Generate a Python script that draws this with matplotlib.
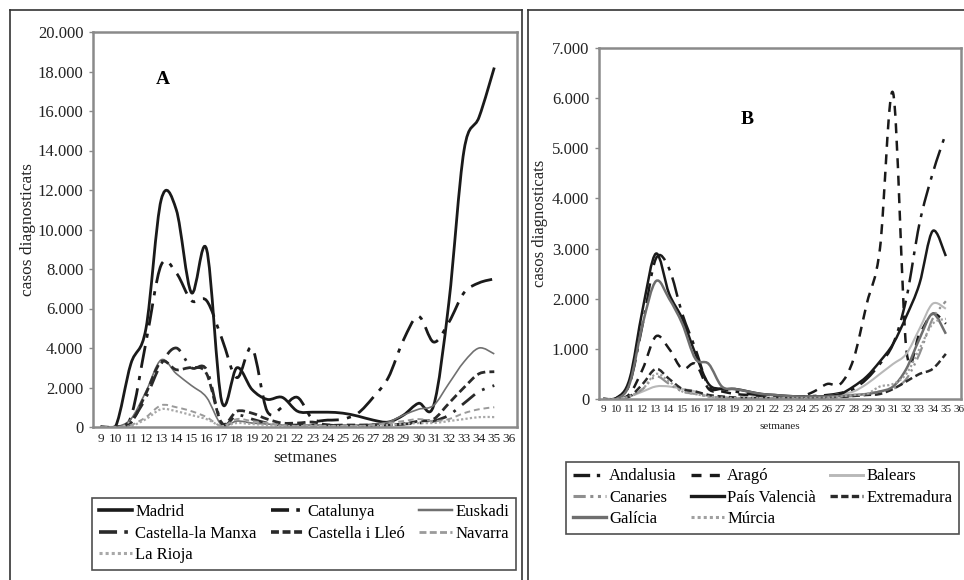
import matplotlib
matplotlib.use("Agg")
import matplotlib.pyplot as plt
from matplotlib.path import Path
from matplotlib.patches import PathPatch
from matplotlib.lines import Line2D
from matplotlib.ticker import FuncFormatter

# ---------------- data ----------------
weeks = list(range(9, 36))
tick_weeks = list(range(9, 37))

madrid = [0, 50, 3200, 5000, 11500, 11000, 6800, 9000, 1300, 3000, 1900, 1400, 1500, 800, 750, 750, 700, 550, 350, 250, 600, 1200, 1100, 6300, 14000, 15700, 18200]
catalunya = [0, 0, 500, 4300, 8200, 7800, 6400, 6400, 4500, 2500, 4000, 800, 1000, 1500, 400, 350, 400, 700, 1500, 2500, 4400, 5600, 4300, 5300, 6800, 7300, 7500]
euskadi = [0, 0, 400, 1800, 3400, 2700, 2100, 1500, 100, 300, 200, 150, 100, 100, 100, 100, 100, 100, 150, 250, 600, 900, 1100, 2200, 3300, 4000, 3700]
castella_manxa = [0, 0, 300, 1500, 3200, 4000, 3000, 2900, 200, 600, 400, 200, 100, 100, 100, 100, 50, 50, 50, 100, 150, 200, 300, 600, 1200, 1800, 2100]
castella_lleo = [0, 0, 200, 1700, 3300, 2900, 3000, 2700, 200, 800, 700, 400, 200, 200, 250, 100, 100, 100, 100, 100, 150, 300, 400, 1200, 2000, 2700, 2800]
navarra = [0, 0, 100, 500, 1100, 1000, 800, 500, 50, 400, 300, 200, 100, 50, 50, 50, 50, 50, 100, 200, 300, 400, 300, 400, 700, 900, 1000]
la_rioja = [0, 0, 50, 400, 900, 800, 600, 400, 50, 200, 150, 100, 50, 50, 50, 50, 50, 50, 50, 100, 150, 200, 200, 300, 400, 500, 500]

andalusia = [0, 20, 300, 1500, 2800, 2600, 1700, 1000, 250, 200, 150, 100, 80, 60, 50, 50, 60, 80, 120, 200, 400, 700, 1100, 2000, 3500, 4500, 5300]
arago = [0, 0, 100, 600, 1250, 1000, 600, 700, 200, 150, 100, 80, 60, 50, 50, 50, 150, 300, 300, 800, 1900, 3000, 6100, 1000, 1300, 1700, 1500]
balears = [0, 0, 50, 150, 250, 250, 200, 150, 50, 30, 20, 20, 20, 20, 20, 30, 40, 60, 100, 150, 300, 500, 700, 900, 1400, 1900, 1800]
canaries = [0, 0, 50, 200, 450, 300, 150, 100, 50, 30, 20, 20, 20, 20, 20, 20, 20, 30, 40, 60, 100, 150, 200, 400, 900, 1600, 1950]
pais_valencia = [0, 20, 400, 1800, 2900, 2100, 1600, 900, 300, 200, 200, 150, 100, 80, 60, 50, 50, 60, 100, 250, 450, 750, 1100, 1650, 2300, 3350, 2850]
extremadura = [0, 0, 50, 300, 600, 400, 200, 150, 80, 50, 30, 20, 20, 20, 20, 20, 20, 30, 40, 60, 80, 100, 200, 350, 500, 600, 900]
galicia = [0, 0, 300, 1500, 2350, 2000, 1500, 800, 700, 250, 200, 150, 100, 80, 60, 50, 50, 50, 60, 80, 100, 150, 250, 600, 1200, 1700, 1300]
murcia = [0, 0, 50, 200, 500, 350, 150, 100, 50, 30, 20, 20, 20, 20, 20, 20, 20, 30, 50, 80, 100, 250, 300, 500, 1000, 1500, 1600]

# ---------------- helpers ----------------
SERIF = ["Liberation Serif", "DejaVu Serif"]
plt.rcParams["font.family"] = SERIF

def smooth_path(xs, ys):
    """Excel-like smoothed line: cubic Bezier through the data points."""
    n = len(xs)
    verts = [(xs[0], ys[0])]
    codes = [Path.MOVETO]
    for i in range(n - 1):
        x0, y0 = (xs[i - 1], ys[i - 1]) if i > 0 else (xs[i], ys[i])
        x1, y1 = xs[i], ys[i]
        x2, y2 = xs[i + 1], ys[i + 1]
        x3, y3 = (xs[i + 2], ys[i + 2]) if i + 2 < n else (xs[i + 1], ys[i + 1])
        c1 = (x1 + (x2 - x0) / 6.0, y1 + (y2 - y0) / 6.0)
        c2 = (x2 - (x3 - x1) / 6.0, y2 - (y3 - y1) / 6.0)
        verts += [c1, c2, (x2, y2)]
        codes += [Path.CURVE4] * 3
    return Path(verts, codes)

def draw(ax, ys, label, color, lw, ls, leg_ls=None):
    p = PathPatch(smooth_path(weeks, ys), fill=False, edgecolor=color,
                  linewidth=lw, linestyle=ls, capstyle="butt", joinstyle="round")
    ax.add_patch(p)
    return Line2D([], [], color=color, linewidth=lw + 0.6,
                  linestyle=leg_ls if leg_ls is not None else ls, label=label)

thousands = FuncFormatter(lambda v, p: f"{int(v):,}".replace(",", "."))

W, H = 964, 580
fig = plt.figure(figsize=(W / 100, H / 100), dpi=100)

def fx(px):
    return px / W

def fy(py):
    return 1 - py / H

FRAME = "#8a8a8a"

def style_axes(ax, ymax, ystep, xt_size):
    ax.set_xlim(8.5, 36.5)
    ax.set_ylim(0, ymax)
    ax.set_xticks(tick_weeks)
    ax.set_xticklabels([str(w) for w in tick_weeks])
    ax.set_yticks(range(0, ymax + 1, ystep))
    ax.yaxis.set_major_formatter(thousands)
    for s in ax.spines.values():
        s.set_color(FRAME)
        s.set_linewidth(1.8)
    ax.tick_params(axis="x", length=0, pad=4, labelsize=xt_size, colors="#222222")
    ax.tick_params(axis="y", length=3, width=1, color=FRAME, pad=4, labelsize=12, labelcolor="#222222")

# ---------------- panel A ----------------
axA = fig.add_axes([fx(93), fy(427), fx(517 - 93), (427 - 32) / H])
style_axes(axA, 20000, 2000, 9.6)
hA = {}
hA["Madrid"] = draw(axA, madrid, "Madrid", "#1a1a1a", 2.0, "-")
hA["Catalunya"] = draw(axA, catalunya, "Catalunya", "#1a1a1a", 2.0, (0, (8, 3, 1.5, 3)), (0, (5, 2, 1, 2)))
hA["Euskadi"] = draw(axA, euskadi, "Euskadi", "#707070", 1.2, "-")
hA["Castella-la Manxa"] = draw(axA, castella_manxa, "Castella-la Manxa", "#2a2a2a", 2.0, (0, (6, 3, 1, 3)), (0, (5, 2, 1, 2)))
hA["Castella i Lleó"] = draw(axA, castella_lleo, "Castella i Lleó", "#2a2a2a", 2.0, (0, (3, 1.5)), (0, (2.2, 1)))
hA["Navarra"] = draw(axA, navarra, "Navarra", "#9a9a9a", 1.4, (0, (3, 2)), (0, (2.5, 1.2)))
hA["La Rioja"] = draw(axA, la_rioja, "La Rioja", "#a8a8a8", 1.6, (0, (1, 1)))
axA.set_ylabel("casos diagnosticats", fontsize=12.5, labelpad=1, color="#222222")
axA.set_xlabel("setmanes", fontsize=12.5, labelpad=4, color="#222222")
axA.text(0.165, 0.88, "A", transform=axA.transAxes, fontsize=14, fontweight="bold", ha="center", va="center")

orderA = ["Madrid", "Castella-la Manxa", "La Rioja", "Catalunya", "Castella i Lleó", "Euskadi", "Navarra"]
legA = fig.legend([hA[k] for k in orderA], orderA, ncol=3, loc="lower left",
                  bbox_to_anchor=(fx(92), fy(570), fx(516 - 92), (570 - 496) / H),
                  mode="expand", fontsize=12, frameon=True, fancybox=False,
                  edgecolor="#222222", handlelength=2.0, handletextpad=0.2,
                  labelspacing=0.33, borderpad=0.4, columnspacing=1.0, borderaxespad=0)
legA.get_frame().set_linewidth(1.2)

# ---------------- panel B ----------------
axB = fig.add_axes([fx(599), fy(399), fx(961 - 599), (399 - 48) / H])
style_axes(axB, 7000, 1000, 8)
axB.set_xlim(8.68, 36.15)
hB = {}
hB["Andalusia"] = draw(axB, andalusia, "Andalusia", "#1a1a1a", 1.8, (0, (8, 3, 1.5, 3)), (0, (5, 2, 1, 2)))
hB["Aragó"] = draw(axB, arago, "Aragó", "#1a1a1a", 1.8, (0, (4, 3)), (0, (3, 2.5)))
hB["Balears"] = draw(axB, balears, "Balears", "#b8b8b8", 1.5, "-")
hB["Canaries"] = draw(axB, canaries, "Canaries", "#8f8f8f", 1.6, (0, (6, 2, 1, 2, 1, 2)), (0, (4, 1.5, 1, 1.5, 1, 1.5)))
hB["País Valencià"] = draw(axB, pais_valencia, "País Valencià", "#1a1a1a", 1.8, "-")
hB["Extremadura"] = draw(axB, extremadura, "Extremadura", "#2a2a2a", 1.8, (0, (3, 1.5)), (0, (2.2, 1)))
hB["Galícia"] = draw(axB, galicia, "Galícia", "#6e6e6e", 1.8, "-")
hB["Múrcia"] = draw(axB, murcia, "Múrcia", "#a0a0a0", 1.6, (0, (1, 1)))
axB.set_ylabel("casos diagnosticats", fontsize=12, labelpad=3, color="#222222")
axB.set_xlabel("setmanes", fontsize=8, labelpad=6, color="#222222")
axB.text(0.41, 0.795, "B", transform=axB.transAxes, fontsize=14, fontweight="bold", ha="center", va="center")

orderB = ["Andalusia", "Canaries", "Galícia", "Aragó", "País Valencià", "Múrcia", "Balears", "Extremadura"]
legB = fig.legend([hB[k] for k in orderB], orderB, ncol=3, loc="lower left",
                  bbox_to_anchor=(fx(566), fy(534), fx(959 - 566), (534 - 460) / H),
                  mode="expand", fontsize=12, frameon=True, fancybox=False,
                  edgecolor="#222222", handlelength=2.0, handletextpad=0.2,
                  labelspacing=0.33, borderpad=0.4, columnspacing=1.0, borderaxespad=0)
legB.get_frame().set_linewidth(1.2)

# ---------------- panel borders ----------------
def fline(x0, y0, x1, y1, lw=1.2):
    fig.add_artist(Line2D([fx(x0), fx(x1)], [fy(y0), fy(y1)], color="#333333", linewidth=lw))

fline(10, 10, 521.5, 10)
fline(10, 10, 10, 580)
fline(521.5, 10, 521.5, 580)
fline(527.5, 10, 964, 10)
fline(527.5, 10, 527.5, 580)

fig.savefig("out.png", dpi=100, facecolor="white")
